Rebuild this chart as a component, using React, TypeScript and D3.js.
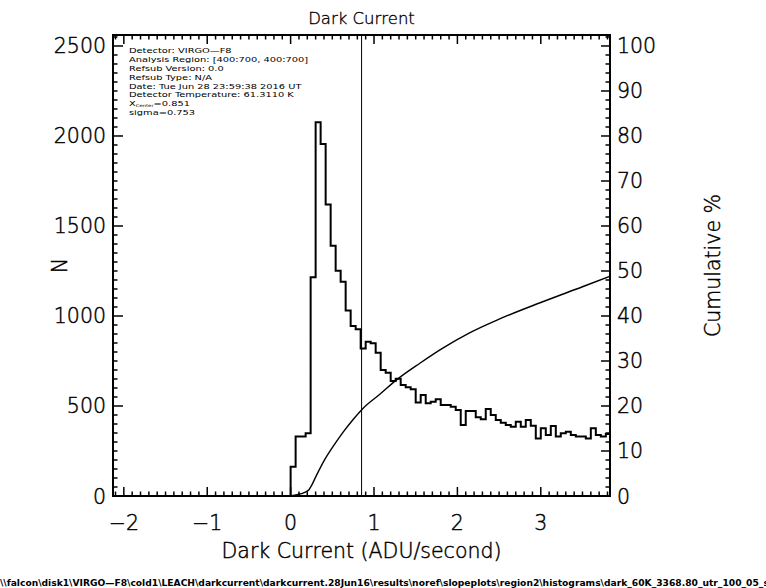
import React from "react";
import * as d3 from "d3";

// ---- data ----
const binStart = 0;
const binWidth = 0.06;
const histCounts = [
  163, 330, 330, 348, 1215, 2076, 1955, 1620, 1390, 1252,
  1190, 1030, 944, 926, 820, 857, 848, 796, 700, 685,
  639, 652, 617, 604, 593, 520, 561, 515, 523, 537,
  506, 506, 496, 478, 394, 472, 472, 437, 426, 483,
  450, 422, 407, 394, 385, 413, 385, 422, 390, 320,
  376, 339, 389, 330, 348, 357, 339, 330, 330, 320,
  376, 339, 330, 345,
];
const cumX = [0, 0.08, 0.17, 0.22, 0.25, 0.3, 0.4, 0.52, 0.63, 0.75, 0.87, 1.07, 1.27, 1.55, 1.82, 2.14, 2.5, 3.0, 3.5, 3.84];
const cumPct = [0, 0.3, 0.8, 1.4, 2.3, 4.2, 7.8, 11.3, 14.2, 17.0, 19.5, 22.6, 25.8, 29.5, 32.8, 36.2, 39.3, 43.0, 46.5, 48.9];
const xCenter = 0.851;
const xTicks = [-2, -1, 0, 1, 2, 3];
const xTickLabels = ["\u22122", "\u22121", "0", "1", "2", "3"];
const yTicks = [0, 500, 1000, 1500, 2000, 2500];
const pctTicks = [0, 10, 20, 30, 40, 50, 60, 70, 80, 90, 100];
const infoLines = [
  "Detector: VIRGO\u2014F8",
  "Analysis Region: [400:700, 400:700]",
  "Refsub Version: 0.0",
  "Refsub Type: N/A",
  "Date: Tue Jun 28 23:59:38 2016 UT",
  "Detector Temperature: 61.3110 K",
];
const sigmaText = "sigma=0.753";
const pathText =
  "\\\\falcon\\disk1\\VIRGO\u2014F8\\cold1\\LEACH\\darkcurrent\\darkcurrent.28Jun16\\results\\noref\\slopeplots\\region2\\histograms\\dark_60K_3368.80_utr_100_05_sl";

// ---- layout ----
const W = 766, H = 588;
const L = 113, R = 610, T = 35, B = 496;
const FONT = "'DejaVu Sans', sans-serif";

export default function App() {
  const x = d3.scaleLinear().domain([-2.13, 3.83]).range([L, R]);
  const y = d3.scaleLinear().domain([0, 2561]).range([B, T]);
  const yP = d3.scaleLinear().domain([0, 102.44]).range([B, T]);

  const histPts: [number, number][] = [[binStart, 0]];
  histCounts.forEach((c, i) => histPts.push([binStart + i * binWidth, c]));
  histPts.push([binStart + histCounts.length * binWidth, histCounts[histCounts.length - 1]]);
  const histLine = d3
    .line<[number, number]>()
    .x((d) => x(d[0]))
    .y((d) => y(d[1]))
    .curve(d3.curveStepAfter);

  const cumLine = d3
    .line<number>()
    .x((_, i) => x(cumX[i]))
    .y((d) => yP(d))
    .curve(d3.curveMonotoneX);

  const [x0, x1] = x.domain();
  const xMinor = d3.range(Math.ceil(x0 * 10), Math.floor(x1 * 10) + 1).map((k) => k / 10);
  const yMinor = d3.range(0, 2561, 50);
  const pMinor = d3.range(0, 102.44, 2);

  const majLen = 9, minLen = 4.5;
  const infoX = 129, infoY0 = 53.5, infoDy = 8.8, infoScale = 1.33;

  return (
    <svg width={W} height={H} style={{ position: "absolute", left: 0, top: 0, background: "#fff" }} fontFamily={FONT}>
      <rect x={0} y={0} width={W} height={H} fill="#fff" />
      <defs>
        <clipPath id="plot">
          <rect x={L} y={T} width={R - L} height={B - T} />
        </clipPath>
      </defs>
      <text x={(L + R) / 2} y={24} textAnchor="middle" fontSize={16.5} fontWeight={200} fill="#000" stroke="#000" strokeWidth={0.35}>Dark Current</text>

      {/* x ticks bottom & top */}
      {xMinor.map((v) => {
        const major = Math.abs(v - Math.round(v)) < 1e-6;
        const len = major ? majLen : minLen;
        return (
          <g key={"xt" + v} stroke="#000" strokeWidth={1.5}>
            <line x1={x(v)} x2={x(v)} y1={B} y2={B - len} />
            <line x1={x(v)} x2={x(v)} y1={T} y2={T + len} />
          </g>
        );
      })}
      {/* left ticks */}
      {yMinor.map((v) => {
        const len = v % 500 === 0 ? majLen + 1 : minLen;
        return <line key={"yt" + v} x1={L} x2={L + len} y1={y(v)} y2={y(v)} stroke="#000" strokeWidth={1.5} />;
      })}
      {/* right ticks */}
      {pMinor.map((v) => {
        const len = v % 10 === 0 ? majLen : minLen;
        return <line key={"pt" + v} x1={R} x2={R - len} y1={yP(v)} y2={yP(v)} stroke="#000" strokeWidth={1.5} />;
      })}

      <rect x={L} y={T} width={R - L} height={B - T} fill="none" stroke="#000" strokeWidth={2} />

      <g fontSize={20.5} fontWeight={200} fill="#000" stroke="#000" strokeWidth={0.45}>
        {xTicks.map((v, i) => (
          <text key={"xl" + v} x={x(v)} y={530} textAnchor="middle">{xTickLabels[i]}</text>
        ))}
        {yTicks.map((v) => (
          <text key={"yl" + v} x={106} y={y(v) + 7.5} textAnchor="end">{v}</text>
        ))}
        {pctTicks.map((v) => (
          <text key={"pl" + v} x={617} y={yP(v) + 7.5} textAnchor="start">{v}</text>
        ))}
        <text x={(L + R) / 2} y={558} textAnchor="middle">Dark Current (ADU/second)</text>
        <text transform={`translate(67,${(T + B) / 2}) rotate(-90)`} textAnchor="middle">N</text>
        <text transform={`translate(720,${(T + B) / 2}) rotate(-90)`} textAnchor="middle">Cumulative %</text>
      </g>

      <g clipPath="url(#plot)">
        <path d={histLine(histPts) || ""} fill="none" stroke="#000" strokeWidth={2} strokeLinejoin="miter" />
        <path d={cumLine(cumPct) || ""} fill="none" stroke="#000" strokeWidth={1.4} />
        <line x1={x(xCenter)} x2={x(xCenter)} y1={T} y2={B} stroke="#000" strokeWidth={1} />
      </g>

      <g fontSize={7.4} fill="#000" transform={`translate(${infoX},0) scale(${infoScale},1)`}>
        {infoLines.map((s, i) => (
          <text key={"il" + i} x={0} y={infoY0 + i * infoDy}>{s}</text>
        ))}
        <text x={0} y={infoY0 + 6 * infoDy}>
          X<tspan fontSize={4} dy={1.2}>Center</tspan><tspan dy={-1.2}>=0.851</tspan>
        </text>
        <text x={0} y={infoY0 + 7 * infoDy}>{sigmaText}</text>
      </g>

      <text x={0} y={586} fontSize={9} fontWeight="bold" fill="#000" textLength={772} lengthAdjust="spacingAndGlyphs">{pathText}</text>
    </svg>
  );
}
